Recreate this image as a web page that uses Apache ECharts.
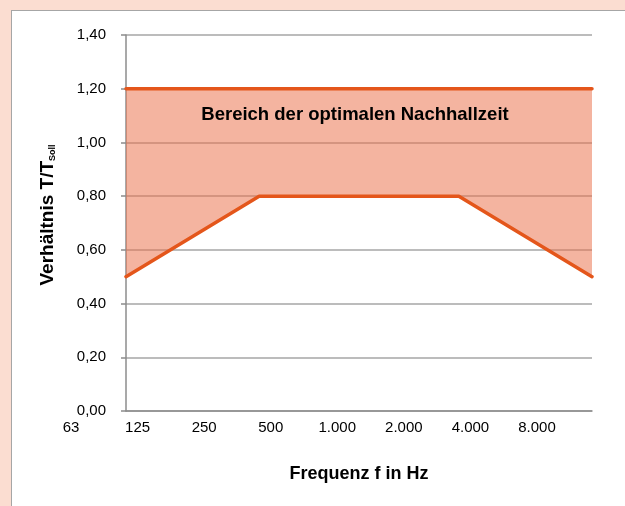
<!DOCTYPE html>
<html>
<head>
<meta charset="utf-8">
<script src="https://cdn.jsdelivr.net/npm/echarts@6/dist/echarts.min.js"></script>
<style>
  html, body { margin: 0; padding: 0; background: #FBDDD1; overflow: hidden; }
  #wrap { position: relative; width: 625px; height: 506px; }
  #box { position: absolute; left: 11px; top: 10px; width: 700px; height: 600px; background: #ffffff; border: 1.5px solid #a6a6a6; }
  #chart { position: absolute; left: 0; top: 0; width: 625px; height: 506px; }
</style>
</head>
<body>
<div id="wrap">
  <div id="box"></div>
  <div id="chart"></div>
</div>
<script>
const categories = ['63', '125', '250', '500', '1.000', '2.000', '4.000', '8.000'];
const lowerLimit = [0.50, 0.65, 0.80, 0.80, 0.80, 0.80, 0.65, 0.50];
const upperLimit = [1.20, 1.20, 1.20, 1.20, 1.20, 1.20, 1.20, 1.20];
const yTicks = [0, 0.2, 0.4, 0.6, 0.8, 1.0, 1.2, 1.4];
const bandText = 'Bereich der optimalen Nachhallzeit';

const band = upperLimit.map((u, i) => +(u - lowerLimit[i]).toFixed(4));
const fnt = 'Liberation Sans, Arial, sans-serif';
const lineColor = '#E4561B';

const chart = echarts.init(document.getElementById('chart'), null, { renderer: 'canvas' });
chart.setOption({
  backgroundColor: 'transparent',
  animation: false,
  textStyle: { fontFamily: fnt },
  grid: { left: 126, right: 33, top: 35, bottom: 95, containLabel: false },
  xAxis: {
    type: 'category',
    data: categories,
    boundaryGap: false,
    axisLine: { show: true, lineStyle: { color: '#8c8c8c', width: 1.5 } },
    axisTick: { show: false },
    axisLabel: {
      color: '#000', fontSize: 15, fontFamily: fnt, margin: 9,
      padding: [0, 110, 0, 0], interval: 0
    },
    name: 'Frequenz f in Hz',
    nameLocation: 'middle',
    nameGap: 54,
    nameTextStyle: { color: '#000', fontSize: 18, fontWeight: 'bold', fontFamily: fnt },
    splitLine: { show: false }
  },
  yAxis: {
    type: 'value',
    min: yTicks[0],
    max: yTicks[yTicks.length - 1],
    interval: 0.2,
    axisLine: { show: true, lineStyle: { color: '#8c8c8c', width: 1.5 } },
    axisTick: { show: true, length: 5, lineStyle: { color: '#8c8c8c', width: 1.5 } },
    axisLabel: {
      color: '#000', fontSize: 15, fontFamily: fnt, margin: 20,
      formatter: v => v.toFixed(2).replace('.', ',')
    },
    splitLine: { show: true, lineStyle: { color: '#a6a6a6', width: 1.5 } },
    name: 'Verhältnis T/T{sub|Soll}',
    nameLocation: 'middle',
    nameGap: 69,
    nameRotate: 90,
    nameTextStyle: {
      color: '#000', fontSize: 19, fontWeight: 'bold', fontFamily: fnt,
      padding: [0, 0, 0, 16],
      rich: {
        sub: { fontSize: 9, fontWeight: 'bold', fontFamily: fnt, color: '#000', verticalAlign: 'bottom', padding: [9, 0, 0, 0] }
      }
    }
  },
  series: [
    {
      type: 'line', stack: 'band', data: lowerLimit, symbol: 'none', silent: true,
      lineStyle: { width: 0, opacity: 0 }, areaStyle: { opacity: 0 }, z: 1
    },
    {
      type: 'line', stack: 'band', data: band, symbol: 'none', silent: true,
      lineStyle: { width: 0, opacity: 0 },
      areaStyle: { color: 'rgba(234,112,72,0.52)', opacity: 1 }, z: 1
    },
    {
      type: 'line', data: lowerLimit, symbol: 'none',
      lineStyle: { color: lineColor, width: 3.5, cap: 'round' }, z: 3
    },
    {
      type: 'line', data: upperLimit, symbol: 'none',
      lineStyle: { color: lineColor, width: 3.5, cap: 'round' }, z: 3
    }
  ],
  graphic: [
    {
      type: 'text', x: 355, y: 115, z: 10,
      style: { text: bandText, font: 'bold 18.5px ' + fnt, fill: '#000', align: 'center', verticalAlign: 'middle' }
    }
  ]
});
</script>
</body>
</html>
